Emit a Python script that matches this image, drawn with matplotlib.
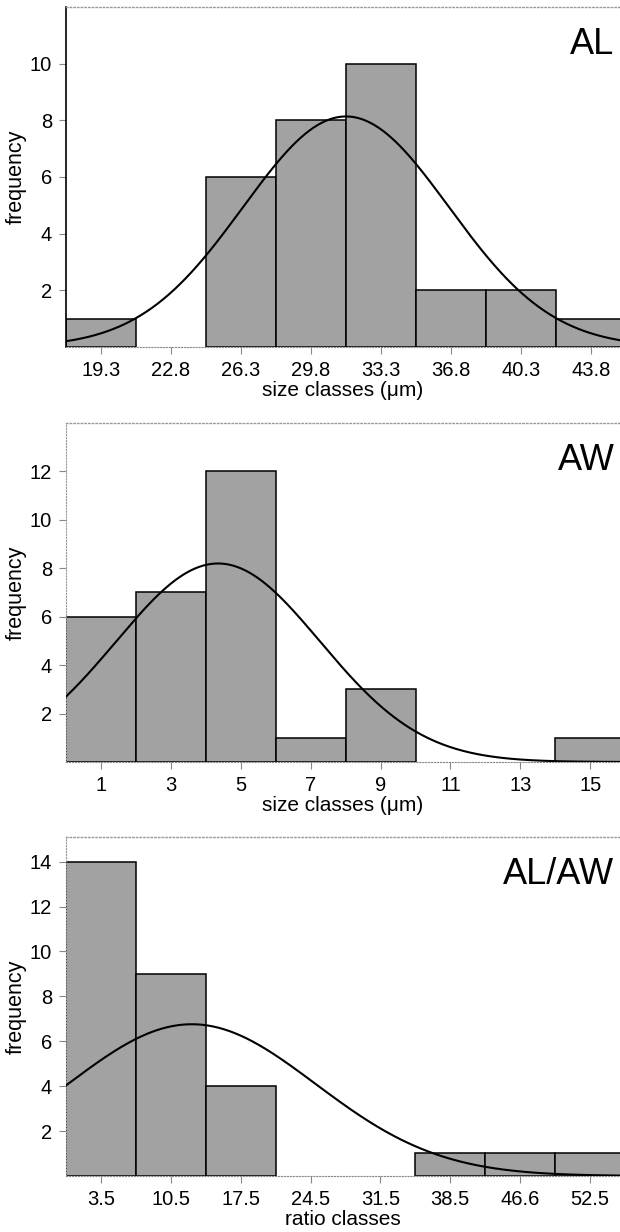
import numpy as np
import matplotlib
matplotlib.use("Agg")
import matplotlib.pyplot as plt

plt.rcParams['font.family'] = ['Liberation Sans', 'DejaVu Sans']

# ---- data ----
al_centers = [19.3, 22.8, 26.3, 29.8, 33.3, 36.8, 40.3, 43.8]
al_counts = [1, 0, 6, 8, 10, 2, 2, 1]
al_labels = ['19.3', '22.8', '26.3', '29.8', '33.3', '36.8', '40.3', '43.8']
al_fit = (31.55, 5.15)   # mean, sd of fitted normal curve

aw_centers = [1, 3, 5, 7, 9, 11, 13, 15]
aw_counts = [6, 7, 12, 1, 3, 0, 0, 1]
aw_labels = ['1', '3', '5', '7', '9', '11', '13', '15']
aw_fit = (4.35, 2.92)

ratio_centers = [3.5, 10.5, 17.5, 24.5, 31.5, 38.5, 45.5, 52.5]
ratio_counts = [14, 9, 4, 0, 0, 1, 1, 1]
ratio_labels = ['3.5', '10.5', '17.5', '24.5', '31.5', '38.5', '46.6', '52.5']
ratio_fit = (12.6, 12.4)

panels = [
    dict(c=al_centers, n=al_counts, lab=al_labels, fit=al_fit, w=3.5,
         xlim=(17.55, 45.25), ylim=(0, 12), yt=[2, 4, 6, 8, 10],
         title='AL', xlabel='size classes (\u03bcm)', pos=[0.1065, 0.7184, 0.8935, 0.276],
         left_black=True),
    dict(c=aw_centers, n=aw_counts, lab=aw_labels, fit=aw_fit, w=2.0,
         xlim=(0, 15.85), ylim=(0, 14), yt=[2, 4, 6, 8, 10, 12],
         title='AW', xlabel='size classes (\u03bcm)', pos=[0.1065, 0.3815, 0.8935, 0.2752],
         left_black=False),
    dict(c=ratio_centers, n=ratio_counts, lab=ratio_labels, fit=ratio_fit, w=7.0,
         xlim=(0, 55.5), ylim=(0, 15.1), yt=[2, 4, 6, 8, 10, 12, 14],
         title='AL/AW', xlabel='ratio classes', pos=[0.1065, 0.0455, 0.8935, 0.2752],
         left_black=False),
]

fig = plt.figure(figsize=(6.2, 12.32), dpi=100)

for p in panels:
    ax = fig.add_axes(p['pos'])
    c = np.array(p['c'], dtype=float)
    n = np.array(p['n'], dtype=float)
    mask = n > 0
    ax.bar(c[mask], n[mask], width=p['w'], color='#a2a2a2', edgecolor='black',
           linewidth=1.1, zorder=2, clip_on=True)
    mu, sd = p['fit']
    total = n.sum()
    xs = np.linspace(p['xlim'][0], p['xlim'][1], 400)
    ys = total * p['w'] / (sd * np.sqrt(2 * np.pi)) * np.exp(-0.5 * ((xs - mu) / sd) ** 2)
    ax.plot(xs, ys, color='black', lw=1.5, zorder=3)

    ax.set_xlim(*p['xlim'])
    ax.set_ylim(*p['ylim'])
    ax.set_xticks(c)
    ax.set_xticklabels(p['lab'], fontsize=14.5)
    ax.set_yticks(p['yt'])
    ax.set_yticklabels([str(v) for v in p['yt']], fontsize=14.5)
    ax.tick_params(axis='both', length=5, width=0.8, color='#888888', pad=5, direction='out')
    ax.set_xlabel(p['xlabel'], fontsize=15, labelpad=1)
    ax.set_ylabel('frequency', fontsize=15.5, labelpad=2)

    ax.spines['right'].set_visible(False)
    ax.spines['top'].set_color('#999999')
    ax.spines['top'].set_linestyle(':')
    ax.spines['top'].set_linewidth(1.0)
    ax.spines['bottom'].set_color('#888888')
    ax.spines['bottom'].set_linestyle(':')
    if p['left_black']:
        ax.spines['left'].set_color('black')
        ax.spines['left'].set_linewidth(1.2)
    else:
        ax.spines['left'].set_color('#999999')
        ax.spines['left'].set_linestyle(':')

    ax.text(0.99, 0.94, p['title'], transform=ax.transAxes, ha='right', va='top',
            fontsize=26)

fig.savefig('out.png', dpi=100)
